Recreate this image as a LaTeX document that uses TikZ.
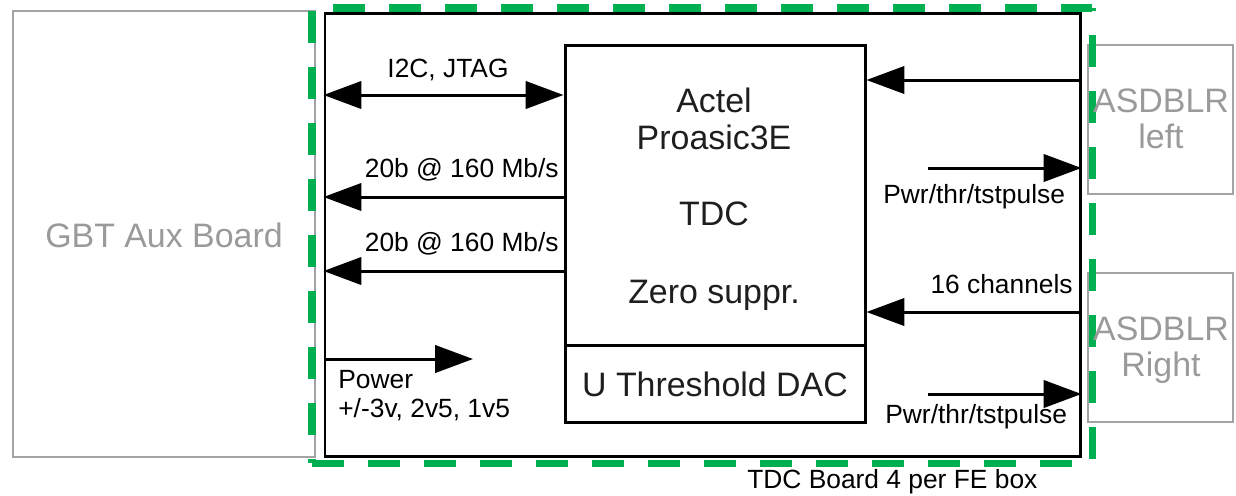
\documentclass[tikz,border=0pt]{standalone}
\usepackage{fontspec}
\setmainfont{Liberation Sans}
\usetikzlibrary{arrows.meta,fit}
\definecolor{grn}{HTML}{00B050}
\definecolor{gry}{HTML}{A3A3A3}
\definecolor{gtext}{HTML}{9A9A9A}
\definecolor{dtext}{HTML}{1E1E1E}
\begin{document}
\begin{tikzpicture}[x=0.02cm,y=-0.02cm,
  box/.style={draw=black,line width=1.7pt,inner sep=0pt},
  gbox/.style={draw=gry,line width=1.6pt,inner sep=0pt},
  big/.style={font=\fontsize{19.3}{23}\selectfont,inner sep=0pt},
  small/.style={font=\fontsize{15}{18}\selectfont,text=black,inner sep=0pt},
  tip/.tip={Triangle[length=21.5pt,width=15.5pt]},
  con/.style={line width=1.7pt,-tip},
  bicon/.style={line width=1.7pt,tip-tip},
  gdash/.style={draw=grn,line width=4pt,dash pattern=on 0.64cm off 0.48cm}]
\useasboundingbox (0,0) rectangle (1236,495);

% outer boards
\node[gbox,fit={(13,11)(315,457)}] (gbt) {};
\node[gbox,fit={(1088,45)(1233,194)}] (asl) {};
\node[gbox,fit={(1088,273)(1233,422)}] (asr) {};
\node[box,fit={(325,13)(1080,456)}] (tdc) {};
\node[box,fit={(565,45)(865,345)}] (fpga) {};
\node[box,fit={(565,345)(865,422)}] (dac) {};

% green dashed FE box outline
\coordinate (gtl) at (312,8);
\coordinate (gtr) at (1092,8);
\coordinate (gbl) at (312,463);
\coordinate (gbr) at (1092,463);
\draw[gdash,dash phase=1.06cm] (gtl) -- (gbl);
\draw[gdash,dash phase=0.70cm] (gtl) -- (gtr);
\draw[gdash,dash phase=0.58cm] (gtr) -- (gbr);
\draw[gdash,dash phase=0cm] (gbl) -- (gbr);

% texts in boxes
\node[big,text=gtext,anchor=base] (tgbt) at (164,247) {GBT Aux Board};
\node[big,text=gtext,anchor=base] (tasl1) at (1161,112) {ASDBLR};
\node[big,text=gtext,anchor=base] (tasl2) at (1161,148) {left};
\node[big,text=gtext,anchor=base] (tasr1) at (1161,340) {ASDBLR};
\node[big,text=gtext,anchor=base] (tasr2) at (1161,376) {Right};
\node[big,text=dtext,anchor=base] (tf1) at (714,112) {Actel};
\node[big,text=dtext,anchor=base] (tf2) at (714,149) {Proasic3E};
\node[big,text=dtext,anchor=base] (tf3) at (714,225) {TDC};
\node[big,text=dtext,anchor=base] (tf4) at (714,303) {Zero suppr.};
\node[big,text=dtext,anchor=base] (tdac) at (715,396) {U Threshold DAC};

% levels
\coordinate (yi2c) at (0,95);
\coordinate (yd1) at (0,197);
\coordinate (yd2) at (0,271);
\coordinate (yal) at (0,80);
\coordinate (ych) at (0,312);
\coordinate (ypw) at (0,359);
\coordinate (p1) at (928,168);
\coordinate (p2) at (928,394);
\coordinate (pwend) at (473,359);

% connectors
\draw[bicon] (tdc.west |- yi2c) -- (fpga.west |- yi2c);
\draw[con] (fpga.west |- yd1) -- (tdc.west |- yd1);
\draw[con] (fpga.west |- yd2) -- (tdc.west |- yd2);
\draw[con] (tdc.east |- yal) -- (fpga.east |- yal);
\draw[con] (tdc.east |- ych) -- (fpga.east |- ych);
\draw[con] (p1) -- (tdc.east |- p1);
\draw[con] (p2) -- (tdc.east |- p2);
\draw[con] (tdc.west |- ypw) -- (pwend);

% connector labels
\node[small,anchor=base] (li2c) at (448,77) {I2C, JTAG};
\node[small,anchor=base east] (ld1) at (559,177) {20b @ 160 Mb/s};
\node[small,anchor=base east] (ld2) at (559,251) {20b @ 160 Mb/s};
\node[small,anchor=base west] (lp1) at (883,203) {Pwr/thr/tstpulse};
\node[small,anchor=base west] (lp2) at (885,423) {Pwr/thr/tstpulse};
\node[small,anchor=base east] (lch) at (1073,293) {16 channels};
\node[small,anchor=base west] (lpw1) at (338,388) {Power};
\node[small,anchor=base west] (lpw2) at (338,417) {+/-3v, 2v5, 1v5};
\node[small,anchor=base west] (ltdc) at (747,488) {TDC Board 4 per FE box};
\end{tikzpicture}
\end{document}
